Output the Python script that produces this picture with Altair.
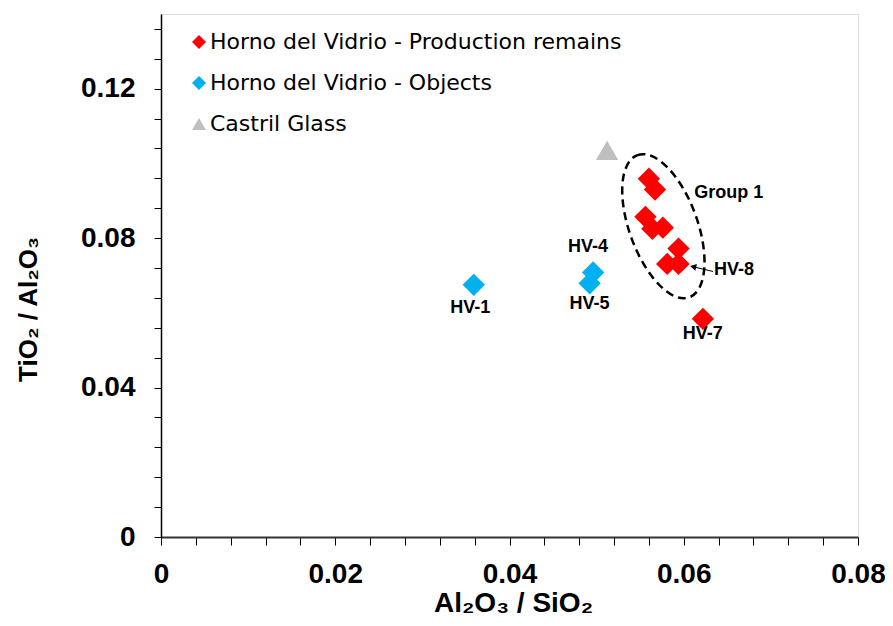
import altair as alt
import pandas as pd

FONT = "Liberation Sans"
LEGEND_FONT = "DejaVu Sans"

series_names = ["Horno del Vidrio - Production remains", "Horno del Vidrio - Objects", "Castril Glass"]
series_colors = ["#FF0000", "#00B0F0", "#BFBFBF"]
series_shapes = ["diamond", "diamond", "triangle-up"]

prod_x = [0.0560, 0.0567, 0.0556, 0.0564, 0.0576, 0.0594, 0.0581, 0.0594, 0.0622]
prod_y = [0.0959, 0.0930, 0.0857, 0.0825, 0.0828, 0.0772, 0.0731, 0.0731, 0.0584]
obj_x = [0.0359, 0.0496, 0.0492]
obj_y = [0.0675, 0.0708, 0.0679]
castril_x = [0.0512]
castril_y = [0.1035]

# point labels (centered)
label_text = ["HV-1", "HV-4", "HV-5", "HV-7"]
label_x = [0.0355, 0.0490, 0.04917, 0.06217]
label_y = [0.0613, 0.0777, 0.0625, 0.0544]
# left-aligned annotations
side_text = ["HV-8", "Group 1"]
side_x = [0.06348, 0.0612]
side_y = [0.0715, 0.0920]

# Group 1 ellipse centre
group_x = [0.05766]
group_y = [0.0832]

# HV-8 pointer
arrow_x = [0.06336]
arrow_y = [0.07107]
arrow_x2 = [0.06108]
arrow_y2 = [0.07235]

x_ticks = [round(i * 0.004, 3) for i in range(21)]
y_ticks = [round(i * 0.008, 3) for i in range(18)]

rows = []
for name, xs, ys in [(series_names[0], prod_x, prod_y),
                     (series_names[1], obj_x, obj_y),
                     (series_names[2], castril_x, castril_y)]:
    for a, b in zip(xs, ys):
        rows.append({"x": a, "y": b, "series": name})
points_df = pd.DataFrame(rows)
labels_df = pd.DataFrame({"x": label_x, "y": label_y, "t": label_text})
side_df = pd.DataFrame({"x": side_x, "y": side_y, "t": side_text})
group_df = pd.DataFrame({"x": group_x, "y": group_y})
arrow_df = pd.DataFrame({"x": arrow_x, "y": arrow_y, "x2": arrow_x2, "y2": arrow_y2})

xscale = alt.Scale(domain=[0, 0.08], nice=False, zero=False)
yscale = alt.Scale(domain=[0, 0.14], nice=False, zero=False)

x_axis = alt.Axis(
    values=x_ticks, tickCount=len(x_ticks) + 5, format="~g",
    labelExpr="round(datum.value*1000) % 20 === 0 ? datum.label : ''",
    labelFlush=False, labelOverlap=False, grid=False,
    tickSize=8, tickColor="#000", tickWidth=1,
    domainColor="#333", domainWidth=2,
    labelFont=FONT, labelFontSize=28, labelFontWeight="bold", labelColor="#000",
    labelPadding=15,
    title="Al₂O₃ / SiO₂", titleFont=FONT, titleFontSize=28, titleFontWeight="bold",
    titleColor="#000", titleX=352, titleY=66, titleBaseline="middle", titleAlign="center",
)
y_axis = alt.Axis(
    values=y_ticks, tickCount=len(y_ticks) + 5, format="~g",
    labelExpr="round(datum.value*1000) % 40 === 0 ? datum.label : ''",
    labelFlush=False, labelOverlap=False, grid=False,
    tickSize=7, tickColor="#000", tickWidth=1,
    domainColor="#000", domainWidth=1.5,
    labelFont=FONT, labelFontSize=28, labelFontWeight="bold", labelColor="#000",
    labelPadding=19,
    title="TiO₂ / Al₂O₃", titleFont=FONT, titleFontSize=26, titleFontWeight="bold",
    titleColor="#000", titleX=-133, titleY=295, titleAngle=270,
    titleBaseline="middle", titleAlign="center",
)

legend_props = dict(
    title=None, orient="none", legendX=27, legendY=17, padding=0,
    labelFont=LEGEND_FONT, labelFontSize=22, labelColor="#000", labelOffset=0, labelLimit=0,
    symbolSize=196, symbolStrokeWidth=0, rowPadding=19,
)

points = alt.Chart(points_df).mark_point(filled=True, size=500, opacity=1, strokeWidth=0).encode(
    x=alt.X("x:Q", scale=xscale, axis=x_axis),
    y=alt.Y("y:Q", scale=yscale, axis=y_axis),
    color=alt.Color("series:N", scale=alt.Scale(domain=series_names, range=series_colors),
                    legend=alt.Legend(**legend_props)),
    shape=alt.Shape("series:N", scale=alt.Scale(domain=series_names, range=series_shapes),
                    legend=alt.Legend(**legend_props)),
)

ellipse_path = "M0,-1A0.45,1,0,1,1,0,1A0.45,1,0,1,1,0,-1Z"
ellipse = alt.Chart(group_df).mark_point(
    shape=ellipse_path, size=22900, angle=340, filled=False,
    stroke="#000", strokeWidth=2.5, strokeDash=[8, 5], opacity=1,
).encode(x=alt.X("x:Q", scale=xscale), y=alt.Y("y:Q", scale=yscale))

labels = alt.Chart(labels_df).mark_text(
    font=FONT, fontSize=18, fontWeight="bold", color="#000", align="center", baseline="middle"
).encode(x=alt.X("x:Q", scale=xscale), y=alt.Y("y:Q", scale=yscale), text="t:N")

side = alt.Chart(side_df).mark_text(
    font=FONT, fontSize=18, fontWeight="bold", color="#000", align="left", baseline="middle"
).encode(x=alt.X("x:Q", scale=xscale), y=alt.Y("y:Q", scale=yscale), text="t:N")

arrow_line = alt.Chart(arrow_df).mark_rule(color="#000", strokeWidth=1).encode(
    x=alt.X("x:Q", scale=xscale), y=alt.Y("y:Q", scale=yscale), x2="x2:Q", y2="y2:Q"
)
arrow_head = alt.Chart(arrow_df).mark_point(
    shape="triangle-left", size=50, angle=13, filled=True, color="#000", opacity=1, strokeWidth=0
).encode(x=alt.X("x2:Q", scale=xscale), y=alt.Y("y2:Q", scale=yscale))

chart = alt.layer(ellipse, points, labels, side, arrow_line, arrow_head).properties(
    width=697, height=523,
    autosize=alt.AutoSizeParams(type="none"),
    padding={"left": 153, "top": 6, "right": 27, "bottom": 80},
).configure_view(
    stroke="#777", strokeWidth=1.5
).configure(background="white")

chart.save("out.html", embed_options={"renderer": "svg", "actions": False})
